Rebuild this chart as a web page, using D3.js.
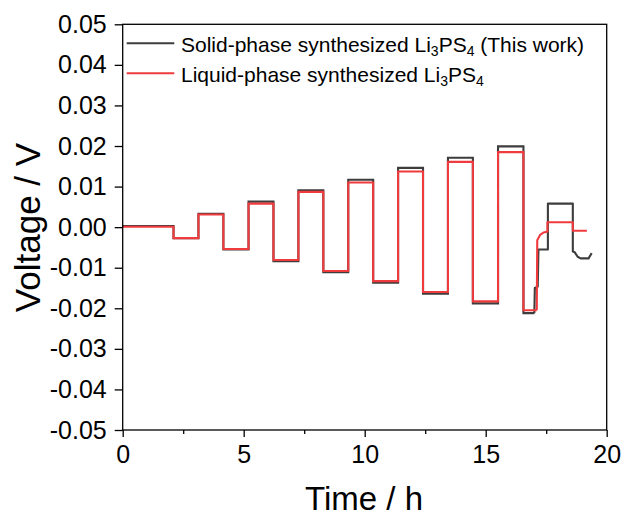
<!DOCTYPE html>
<html>
<head>
<meta charset="utf-8">
<script src="https://cdn.jsdelivr.net/npm/d3@7"></script>
<style>
  html, body { margin: 0; padding: 0; background: #fff; }
  svg { display: block; font-family: Arial, "Liberation Sans", sans-serif; }
</style>
</head>
<body>
<svg id="chart" width="639" height="516"></svg>
<script>
// Galvanostatic step times (h) shared by both cells; each level starts at its edge
const stepEdges = [0, 2.10, 3.13, 4.16, 5.20, 6.23, 7.26, 8.29, 9.32, 10.35, 11.38, 12.41, 13.44, 14.47, 15.51, 16.56];

// Voltage level (V) held during each step
const solidLevels  = [0.0003, -0.0027, 0.0033, -0.0055, 0.0063, -0.0084, 0.0091, -0.0111, 0.0117, -0.0137, 0.0146, -0.0164, 0.0171, -0.0188, 0.0199, -0.0212];
const liquidLevels = [0.0001, -0.0027, 0.0031, -0.0054, 0.0058, -0.0081, 0.0087, -0.0108, 0.0110, -0.0133, 0.0137, -0.0160, 0.0161, -0.0183, 0.0185, -0.0205];

// Final relaxation segments [time h, voltage V]
const solidTail = [[17.01, -0.0212], [17.03, -0.0150], [17.15, -0.0147], [17.18, -0.0055], [17.57, -0.0055],
                   [17.57, 0.0058], [18.60, 0.0058], [18.60, -0.0060], [18.68, -0.0062], [18.80, -0.0073],
                   [18.92, -0.0077], [19.25, -0.0077], [19.38, -0.0064]];
const liquidTail = [[17.11, -0.0205], [17.13, -0.0032], [17.25, -0.0019], [17.40, -0.0013], [17.55, -0.0011],
                    [17.55, 0.0012], [18.60, 0.0012], [18.60, -0.0009], [19.18, -0.0009]];

// Axis ticks
const xMajorTicks = [0, 5, 10, 15, 20];
const xMinorTicks = [2.5, 7.5, 12.5, 17.5];
const yTicks = [0.05, 0.04, 0.03, 0.02, 0.01, 0.00, -0.01, -0.02, -0.03, -0.04, -0.05];

const svg = d3.select("#chart");
const plotLeft = 122.7, plotRight = 606.7, plotTop = 24.3, plotBottom = 430;

const x = d3.scaleLinear().domain([0, 20]).range([plotLeft, plotRight]);
const y = d3.scaleLinear().domain([-0.05, 0.05]).range([plotBottom, plotTop]);

const COLOR_SOLID = "#3d3d3d";
const COLOR_LIQUID = "#ef3b3d";

// Data traces
function drawSeries(levels, tail, color) {
  const stepPts = levels.map((v, i) => [stepEdges[i], v]);
  stepPts.push([tail[0][0], levels[levels.length - 1]]);
  const stepLine = d3.line().x(d => x(d[0])).y(d => y(d[1])).curve(d3.curveStepAfter);
  const tailLine = d3.line().x(d => x(d[0])).y(d => y(d[1]));
  svg.append("path").attr("d", stepLine(stepPts))
    .attr("fill", "none").attr("stroke", color).attr("stroke-width", 2.1)
    .attr("stroke-linejoin", "miter");
  svg.append("path").attr("d", tailLine(tail))
    .attr("fill", "none").attr("stroke", color).attr("stroke-width", 2.1)
    .attr("stroke-linejoin", "round");
}
drawSeries(solidLevels, solidTail, COLOR_SOLID);
drawSeries(liquidLevels, liquidTail, COLOR_LIQUID);

// Frame
svg.append("rect")
  .attr("x", plotLeft).attr("y", plotTop)
  .attr("width", plotRight - plotLeft).attr("height", plotBottom - plotTop)
  .attr("fill", "none").attr("stroke", "#000").attr("stroke-width", 1.3);

// Bottom axis
const xAxis = d3.axisBottom(x).tickValues(xMajorTicks).tickSize(7).tickPadding(8)
  .tickFormat(d3.format("d"));
const gx = svg.append("g").attr("transform", `translate(0,${plotBottom})`).call(xAxis);
gx.select(".domain").remove();
gx.selectAll(".tick line").attr("stroke-width", 1.3);
gx.selectAll("text").attr("font-size", 25).attr("font-family", "Arial, 'Liberation Sans', sans-serif").attr("fill", "#000");

const xMinor = d3.axisBottom(x).tickValues(xMinorTicks).tickSize(4).tickFormat("");
const gxm = svg.append("g").attr("transform", `translate(0,${plotBottom})`).call(xMinor);
gxm.select(".domain").remove();
gxm.selectAll(".tick line").attr("stroke-width", 1.3);

// Left axis
const yAxis = d3.axisLeft(y).tickValues(yTicks).tickSize(8).tickPadding(8)
  .tickFormat(d => d.toFixed(2));
const gy = svg.append("g").attr("transform", `translate(${plotLeft},0)`).call(yAxis);
gy.select(".domain").remove();
gy.selectAll(".tick line").attr("stroke-width", 1.3);
gy.selectAll("text").attr("font-size", 25).attr("font-family", "Arial, 'Liberation Sans', sans-serif").attr("fill", "#000");

// Axis titles
svg.append("text")
  .attr("x", 364).attr("y", 510)
  .attr("text-anchor", "middle").attr("font-size", 33).attr("fill", "#000")
  .text("Time / h");
svg.append("text")
  .attr("transform", "translate(40,227.5) rotate(-90)")
  .attr("text-anchor", "middle").attr("font-size", 35).attr("fill", "#000")
  .text("Voltage / V");

// Legend
const legendItems = [
  { color: COLOR_SOLID, parts: ["Solid-phase synthesized Li", "3", "PS", "4", " (This work)"], ly: 43.3 },
  { color: COLOR_LIQUID, parts: ["Liquid-phase synthesized Li", "3", "PS", "4"], ly: 73.3 }
];
legendItems.forEach(item => {
  svg.append("line")
    .attr("x1", 126.7).attr("x2", 174.3)
    .attr("y1", item.ly).attr("y2", item.ly)
    .attr("stroke", item.color).attr("stroke-width", 2);
  const t = svg.append("text")
    .attr("x", 181).attr("y", item.ly + 8.4)
    .attr("font-size", 21).attr("fill", "#000");
  item.parts.forEach((p, i) => {
    const isSub = i % 2 === 1;
    const ts = t.append("tspan").text(p);
    if (isSub) ts.attr("font-size", 14).attr("dy", 4);
    else if (i > 0) ts.attr("dy", -4);
  });
});
</script>
</body>
</html>
